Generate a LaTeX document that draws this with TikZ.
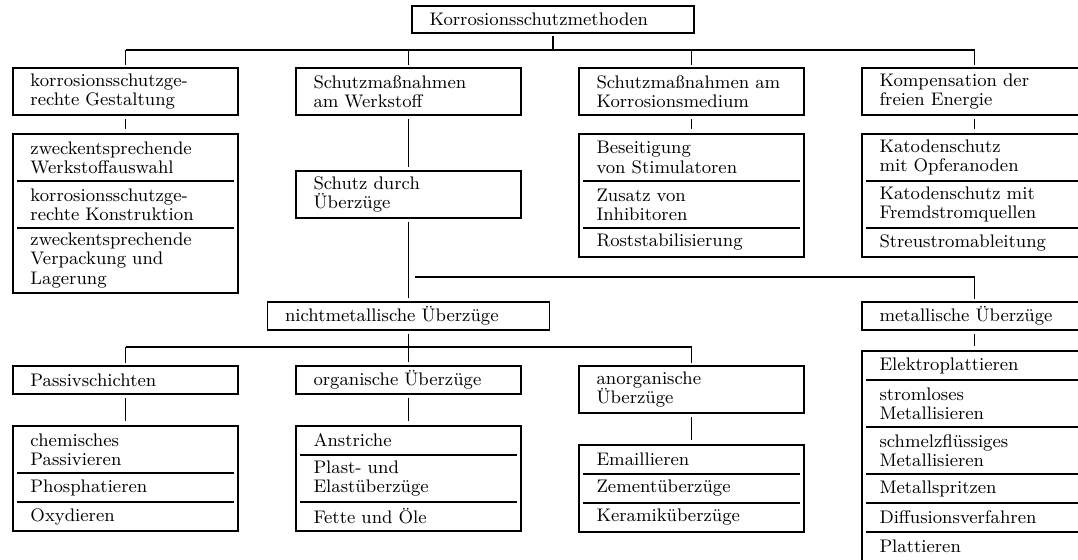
\documentclass[tikz,border=0pt]{standalone}
\usepackage{tikz}
\usetikzlibrary{positioning,fit}

\begin{document}
\begin{tikzpicture}[
    x=0.5pt, y=-0.5pt,
    every node/.style={font=\fontsize{9.1}{9.6}\selectfont},
    box/.style={rectangle, draw, line width=0.7pt, align=left, text width=95pt, inner xsep=8.75pt, inner ysep=0pt, outer sep=0pt, minimum height=14pt},
    wide/.style={box, text width=123.5pt},
    entry/.style={box, draw=none, minimum height=14.5pt},
    twoline/.style={minimum height=23.5pt},
    threeline/.style={minimum height=32.5pt},
    listframe/.style={draw, line width=0.7pt, inner sep=0pt},
    wire/.style={line width=0.7pt},
    tick/.style={wire, shorten >=1.5pt},
    link/.style={wire, shorten <=2pt, shorten >=2pt},
    divider/.style={wire, shorten <=2pt, shorten >=2pt}
]
\useasboundingbox (0,0) rectangle (1078,559);
\clip (0,0) rectangle (1078,559);
% Gliederung der Korrosionsschutzmethoden
\node[wide, minimum height=13.5pt, anchor=north west] (kschutz) at (412,6) {Korrosionsschutzmethoden};

\node[box, twoline, anchor=north west] (gestalt) at (13,68) {korrosionsschutzge-\\rechte Gestaltung};
\node[box, twoline, right=29pt of gestalt] (werkstoff) {Schutzmaßnahmen\\am Werkstoff};
\node[box, twoline, right=29pt of werkstoff] (medium) {Schutzmaßnahmen am\\Korrosionsmedium};
\node[box, twoline, right=29pt of medium] (energie) {Kompensation der\\freien Energie};

\node[entry, twoline, below=9.5pt of gestalt] (g1) {zweckentsprechende\\Werkstoffauswahl};
\node[entry, twoline, below=0pt of g1] (g2) {korrosionsschutzge-\\rechte Konstruktion};
\node[entry, threeline, below=0pt of g2] (g3) {zweckentsprechende\\Verpackung und\\Lagerung};
\node[listframe, fit=(g1)(g3)] (glist) {};

\node[entry, twoline, below=9.5pt of medium] (m1) {Beseitigung\\von Stimulatoren};
\node[entry, twoline, below=0pt of m1] (m2) {Zusatz von\\Inhibitoren};
\node[entry, below=0pt of m2] (m3) {Roststabilisierung};
\node[listframe, fit=(m1)(m3)] (mlist) {};

\node[entry, twoline, below=9.5pt of energie] (e1) {Katodenschutz\\mit Opferanoden};
\node[entry, twoline, below=0pt of e1] (e2) {Katodenschutz mit\\Fremdstromquellen};
\node[entry, below=0pt of e2] (e3) {Streustromableitung};
\node[listframe, fit=(e1)(e3)] (elist) {};

\node[box, twoline, below=28pt of werkstoff] (ueberzug) {Schutz durch\\Überzüge};
\node[wide, below=42pt of ueberzug] (nichtmet) {nichtmetallische Überzüge};
\node[box, anchor=north west] (metall) at (energie.west |- nichtmet.north) {metallische Überzüge};

\node[box, below=18pt of nichtmet] (organ) {organische Überzüge};
\node[box, anchor=north west] (passiv) at (gestalt.west |- organ.north) {Passivschichten};
\node[box, twoline, anchor=north west] (anorg) at (medium.west |- organ.north) {anorganische\\Überzüge};

\node[entry, twoline, below=16pt of passiv] (p1) {chemisches\\Passivieren};
\node[entry, below=0pt of p1] (p2) {Phosphatieren};
\node[entry, below=0pt of p2] (p3) {Oxydieren};
\node[listframe, fit=(p1)(p3)] (plist) {};

\node[entry, below=16pt of organ] (o1) {Anstriche};
\node[entry, twoline, below=0pt of o1] (o2) {Plast- und\\Elastüberzüge};
\node[entry, below=0pt of o2] (o3) {Fette und Öle};
\node[listframe, fit=(o1)(o3)] (olist) {};

\node[entry, below=16pt of anorg] (a1) {Emaillieren};
\node[entry, below=0pt of a1] (a2) {Zementüberzüge};
\node[entry, below=0pt of a2] (a3) {Keramiküberzüge};
\node[listframe, fit=(a1)(a3)] (alist) {};

\node[entry, below=10.5pt of metall] (mt1) {Elektroplattieren};
\node[entry, twoline, below=0pt of mt1] (mt2) {stromloses\\Metallisieren};
\node[entry, twoline, below=0pt of mt2] (mt3) {schmelzflüssiges\\Metallisieren};
\node[entry, below=0pt of mt3] (mt4) {Metallspritzen};
\node[entry, below=0pt of mt4] (mt5) {Diffusionsverfahren};
\node[entry, below=0pt of mt5] (mt6) {Plattieren};
\node[listframe, fit=(mt1)(mt6)] (mtlist) {};

\draw[divider] (g1.south west) -- (g1.south east);
\draw[divider] (g2.south west) -- (g2.south east);
\draw[divider] (m1.south west) -- (m1.south east);
\draw[divider] (m2.south west) -- (m2.south east);
\draw[divider] (e1.south west) -- (e1.south east);
\draw[divider] (e2.south west) -- (e2.south east);
\draw[divider] (p1.south west) -- (p1.south east);
\draw[divider] (p2.south west) -- (p2.south east);
\draw[divider] (o1.south west) -- (o1.south east);
\draw[divider] (o2.south west) -- (o2.south east);
\draw[divider] (a1.south west) -- (a1.south east);
\draw[divider] (a2.south west) -- (a2.south east);
\draw[divider] (mt1.south west) -- (mt1.south east);
\draw[divider] (mt2.south west) -- (mt2.south east);
\draw[divider] (mt3.south west) -- (mt3.south east);
\draw[divider] (mt4.south west) -- (mt4.south east);
\draw[divider] (mt5.south west) -- (mt5.south east);

\coordinate (bus1) at (0,50);
\coordinate (bus2) at (0,277);
\coordinate (bus3) at (0,347);

\draw[wire] (bus1 -| gestalt.north) -- (bus1 -| energie.north);
\draw[tick] (bus1 -| kschutz.south) -- (kschutz.south);
\draw[tick] (bus1 -| gestalt.north) -- (gestalt.north);
\draw[tick] (bus1 -| werkstoff.north) -- (werkstoff.north);
\draw[tick] (bus1 -| medium.north) -- (medium.north);
\draw[tick] (bus1 -| energie.north) -- (energie.north);

\draw[link] (gestalt) -- (glist);
\draw[link] (medium) -- (mlist);
\draw[link] (energie) -- (elist);
\draw[link] (werkstoff) -- (ueberzug);
\draw[link] (ueberzug) -- (nichtmet);
\draw[wire, shorten <=3pt, shorten >=1.5pt] (bus2 -| ueberzug.south) -| (metall.north);

\draw[wire] (bus3 -| passiv.north) -- (bus3 -| anorg.north);
\draw[link] (nichtmet) -- (organ);
\draw[tick] (bus3 -| passiv.north) -- (passiv.north);
\draw[tick] (bus3 -| anorg.north) -- (anorg.north);

\draw[link] (passiv) -- (plist);
\draw[link] (organ) -- (olist);
\draw[link] (anorg) -- (alist);
\draw[link] (metall) -- (mtlist);
\end{tikzpicture}
\end{document}
